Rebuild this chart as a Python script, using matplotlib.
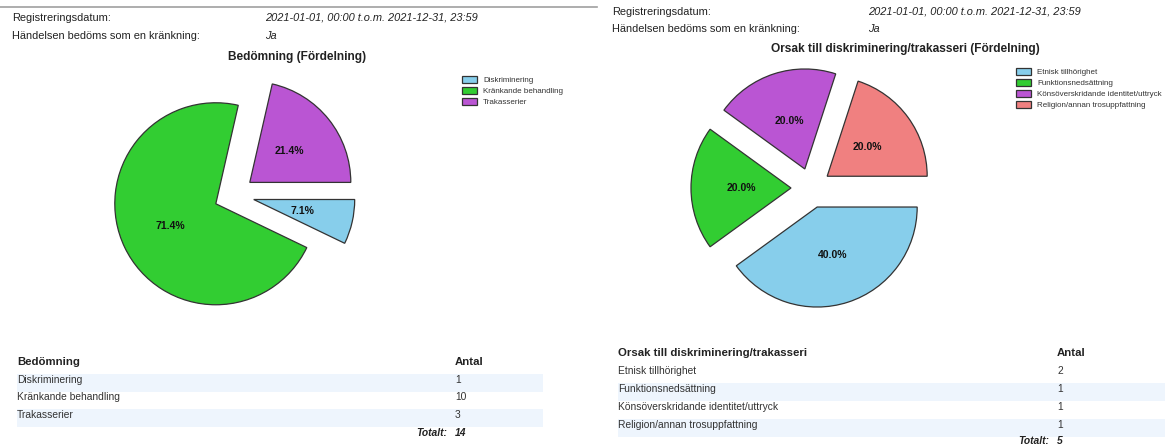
import matplotlib
matplotlib.use('Agg')
import matplotlib.pyplot as plt
from matplotlib.patches import Rectangle
from matplotlib.lines import Line2D

plt.rcParams['font.family'] = ['Liberation Sans', 'DejaVu Sans']

# data
header_labels = ['Registreringsdatum:', 'Händelsen bedöms som en kränkning:']
header_values = ['2021-01-01, 00:00 t.o.m. 2021-12-31, 23:59', 'Ja']

left_title = 'Bedömning (Fördelning)'
left_cats = ['Diskriminering', 'Kränkande behandling', 'Trakasserier']
left_counts = [1, 10, 3]
left_colors = ['skyblue', 'limegreen', 'mediumorchid']

right_title = 'Orsak till diskriminering/trakasseri (Fördelning)'
right_cats = ['Etnisk tillhörighet', 'Funktionsnedsättning',
              'Könsöverskridande identitet/uttryck', 'Religion/annan trosuppfattning']
right_counts = [2, 1, 1, 1]
right_colors = ['skyblue', 'limegreen', 'mediumorchid', 'lightcoral']

W, H = 1176, 447
fig = plt.figure(figsize=(W / 100, H / 100), dpi=100)
fig.patch.set_facecolor('white')


def fx(x):
    return x / W


def fy(y):
    return 1 - y / H


txt = '#222222'

# thin rule at the top
fig.add_artist(Line2D([fx(0), fx(597)], [fy(7), fy(7)], color='#a0a0a0', lw=1.2))


def header(x_lab, x_val, y0, dy):
    for i in range(len(header_labels)):
        fig.text(fx(x_lab), fy(y0 + i * dy), header_labels[i], fontsize=7.9,
                 color=txt, va='center', ha='left')
        fig.text(fx(x_val), fy(y0 + i * dy), header_values[i], fontsize=7.9,
                 color=txt, va='center', ha='left', style='italic')


header(12, 265, 18, 18)
header(612, 868, 12, 17)


def draw_pie(cx, cy, r, counts, colors, cats, title, tx, ty, lx, ly):
    half = 140
    ax = fig.add_axes([fx(cx - half), fy(cy + half), 2 * half / W, 2 * half / H])
    wedges, texts, autotexts = ax.pie(
        counts, colors=colors, explode=[0.2] * len(counts), startangle=0,
        counterclock=False, autopct='%1.1f%%', pctdistance=0.5,
        wedgeprops=dict(edgecolor='#333333', linewidth=0.9),
        textprops=dict(fontsize=7.5, fontweight='bold', color='#111111'))
    lim = half / r
    ax.set_xlim(-lim, lim)
    ax.set_ylim(-lim, lim)
    ax.set_aspect('equal')
    ax.axis('off')
    fig.text(fx(tx), fy(ty), title, fontsize=8.6, fontweight='bold',
             color=txt, ha='center', va='center')
    fig.legend(wedges, cats, loc='upper left', bbox_to_anchor=(fx(lx), fy(ly)),
               frameon=False, fontsize=5.8, borderpad=0, borderaxespad=0,
               handlelength=1.9, handleheight=0.9, handletextpad=0.7,
               labelspacing=0.35, labelcolor='#333333')


draw_pie(234, 195, 101, left_counts, left_colors, left_cats, left_title,
         297, 57, 462, 76)
draw_pie(811, 188, 100, right_counts, right_colors, right_cats, right_title,
         905, 49, 1016, 68)


def table(x0, x_num, x_end, y_head, dy, head, cats, counts, shade_odd, y_tot):
    fig.text(fx(x0), fy(y_head), head, fontsize=8.2, fontweight='bold',
             color=txt, va='center')
    fig.text(fx(x_num), fy(y_head), 'Antal', fontsize=8.2, fontweight='bold',
             color=txt, va='center')
    for i, (c, n) in enumerate(zip(cats, counts)):
        y = y_head + (i + 1) * dy
        if (i % 2 == 0) == shade_odd:
            fig.add_artist(Rectangle((fx(x0), fy(y + 12)), fx(x_end) - fx(x0),
                                     18 / H, facecolor='#eef5fd', edgecolor='none',
                                     transform=fig.transFigure, zorder=0))
        fig.text(fx(x0), fy(y), c, fontsize=7.4, color='#333333', va='center')
        fig.text(fx(x_num), fy(y), str(n), fontsize=7.4, color='#333333', va='center')
    fig.text(fx(x_num - 8), fy(y_tot), 'Totalt:', fontsize=7.4, fontweight='bold',
             style='italic', color=txt, va='center', ha='right')
    fig.text(fx(x_num), fy(y_tot), str(sum(counts)), fontsize=7.4, fontweight='bold',
             style='italic', color=txt, va='center')


table(17, 455, 543, 362, 17.7, 'Bedömning', left_cats, left_counts, True, 433)
table(618, 1057, 1165, 353, 18, 'Orsak till diskriminering/trakasseri',
      right_cats, right_counts, False, 441)

fig.savefig('out.png', dpi=100, facecolor='white')
